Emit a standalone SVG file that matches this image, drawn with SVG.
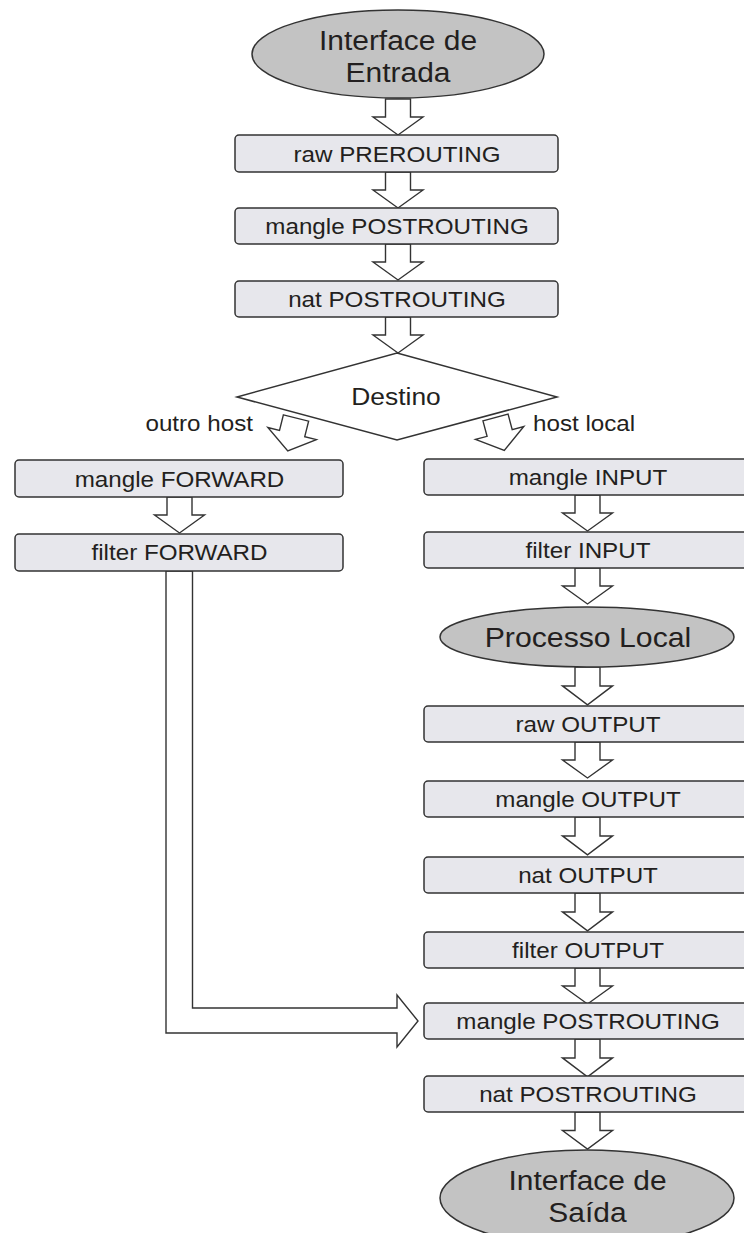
<svg xmlns="http://www.w3.org/2000/svg" width="744" height="1233" viewBox="0 0 744 1233">
  <defs>
    <style>
      .box { fill: #e7e7ec; stroke: #333; stroke-width: 1.5; }
      .term { fill: #c3c3c3; stroke: #333; stroke-width: 1.5; }
      .dec { fill: #fff; stroke: #333; stroke-width: 1.5; }
      .arrow { fill: #fff; stroke: #333; stroke-width: 1.4; stroke-linejoin: miter; }
      text { font-family: "Liberation Sans", Arial, sans-serif; fill: #231f20; text-anchor: middle; }
      .lbl { font-size: 22px; }
      .big { font-size: 28px; }
      .mid { font-size: 24px; }
      .side { font-size: 22px; }
      .end { text-anchor: end; }
      .start { text-anchor: start; }
    </style>
    <!-- hollow block arrow pointing down, origin at the tail centre -->
    <path id="down" d="M-12.5,0 H12.5 V18 H25 L0,36 L-25,18 H-12.5 Z"/>
    <path id="slant" d="M-13,0 H13 V16 H25 L0,34 L-25,16 H-13 Z"/>
  </defs>

  <g id="connectors">
    <!-- main column -->
    <use href="#down" class="arrow" transform="translate(398,99) scale(1,1)"/>
    <use href="#down" class="arrow" transform="translate(398,172)"/>
    <use href="#down" class="arrow" transform="translate(398,244)"/>
    <use href="#down" class="arrow" transform="translate(398,317)"/>
    <!-- branches out of the decision -->
    <use href="#slant" class="arrow" transform="translate(296,418) rotate(14)"/>
    <use href="#slant" class="arrow" transform="translate(495.5,417.5) rotate(-15)"/>
    <!-- forward chain -->
    <use href="#down" class="arrow" transform="translate(179.5,497)"/>
    <path class="arrow" d="M166,571 V1033 H397 V1047 L418,1021 L397,995 V1008 H192.5 V571 Z"/>
    <!-- local chain -->
    <use href="#down" class="arrow" transform="translate(587.5,495)"/>
    <use href="#down" class="arrow" transform="translate(587.5,568)"/>
    <use href="#down" class="arrow" transform="translate(587.5,667) scale(1,1.05)"/>
    <use href="#down" class="arrow" transform="translate(587.5,742)"/>
    <use href="#down" class="arrow" transform="translate(587.5,817) scale(1,1.05)"/>
    <use href="#down" class="arrow" transform="translate(587.5,893) scale(1,1.05)"/>
    <use href="#down" class="arrow" transform="translate(587.5,968)"/>
    <use href="#down" class="arrow" transform="translate(587.5,1039) scale(1,1.05)"/>
    <use href="#down" class="arrow" transform="translate(587.5,1112) scale(1,1.03)"/>
  </g>

  <g id="in-iface">
    <ellipse class="term" cx="398" cy="54" rx="146" ry="44"/>
    <text class="big" transform="translate(398,50) scale(1.07,1)">Interface de</text>
    <text class="big" transform="translate(398,82) scale(1.07,1)">Entrada</text>
  </g>
  <g id="raw-prerouting">
    <rect class="box" x="235" y="135" width="323" height="37" rx="4"/>
    <text class="lbl" transform="translate(397,161.5) scale(1.1,1)">raw PREROUTING</text>
  </g>
  <g id="mangle-postrouting-1">
    <rect class="box" x="235" y="208" width="323" height="36" rx="4"/>
    <text class="lbl" transform="translate(397,234) scale(1.1,1)">mangle POSTROUTING</text>
  </g>
  <g id="nat-postrouting-1">
    <rect class="box" x="235" y="281" width="323" height="36" rx="4"/>
    <text class="lbl" transform="translate(397,307) scale(1.1,1)">nat POSTROUTING</text>
  </g>
  <g id="destino">
    <polygon class="dec" points="397,353 557,397 397,440 237,397"/>
    <text class="mid" transform="translate(396,405) scale(1.1,1)">Destino</text>
  </g>
  <g id="branch-labels">
    <text class="side end" transform="translate(253,431) scale(1.1,1)">outro host</text>
    <text class="side start" transform="translate(533,431) scale(1.1,1)">host local</text>
  </g>

  <g id="mangle-forward">
    <rect class="box" x="15" y="460" width="328" height="37" rx="4"/>
    <text class="lbl" transform="translate(179.5,486.5) scale(1.1,1)">mangle FORWARD</text>
  </g>
  <g id="filter-forward">
    <rect class="box" x="15" y="534" width="328" height="37" rx="4"/>
    <text class="lbl" transform="translate(179.5,560) scale(1.1,1)">filter FORWARD</text>
  </g>

  <g id="mangle-input">
    <rect class="box" x="424" y="459" width="328" height="36" rx="4"/>
    <text class="lbl" transform="translate(588,485) scale(1.1,1)">mangle INPUT</text>
  </g>
  <g id="filter-input">
    <rect class="box" x="424" y="532" width="328" height="36" rx="4"/>
    <text class="lbl" transform="translate(588,558) scale(1.1,1)">filter INPUT</text>
  </g>
  <g id="local-process">
    <ellipse class="term" cx="587" cy="637" rx="147" ry="30"/>
    <text class="big" transform="translate(588,647) scale(1.08,1)">Processo Local</text>
  </g>
  <g id="raw-output">
    <rect class="box" x="424" y="706" width="328" height="36" rx="4"/>
    <text class="lbl" transform="translate(588,732) scale(1.1,1)">raw OUTPUT</text>
  </g>
  <g id="mangle-output">
    <rect class="box" x="424" y="781" width="328" height="36" rx="4"/>
    <text class="lbl" transform="translate(588,807) scale(1.1,1)">mangle OUTPUT</text>
  </g>
  <g id="nat-output">
    <rect class="box" x="424" y="857" width="328" height="36" rx="4"/>
    <text class="lbl" transform="translate(588,883) scale(1.1,1)">nat OUTPUT</text>
  </g>
  <g id="filter-output">
    <rect class="box" x="424" y="932" width="328" height="36" rx="4"/>
    <text class="lbl" transform="translate(588,958) scale(1.1,1)">filter OUTPUT</text>
  </g>
  <g id="mangle-postrouting-2">
    <rect class="box" x="424" y="1003" width="328" height="36" rx="4"/>
    <text class="lbl" transform="translate(588,1029) scale(1.1,1)">mangle POSTROUTING</text>
  </g>
  <g id="nat-postrouting-2">
    <rect class="box" x="424" y="1076" width="328" height="36" rx="4"/>
    <text class="lbl" transform="translate(588,1102) scale(1.1,1)">nat POSTROUTING</text>
  </g>
  <g id="out-iface">
    <ellipse class="term" cx="587" cy="1198" rx="147" ry="48"/>
    <text class="big" transform="translate(587.5,1190) scale(1.07,1)">Interface de</text>
    <text class="big" transform="translate(587.5,1222) scale(1.07,1)">Saída</text>
  </g>
</svg>
